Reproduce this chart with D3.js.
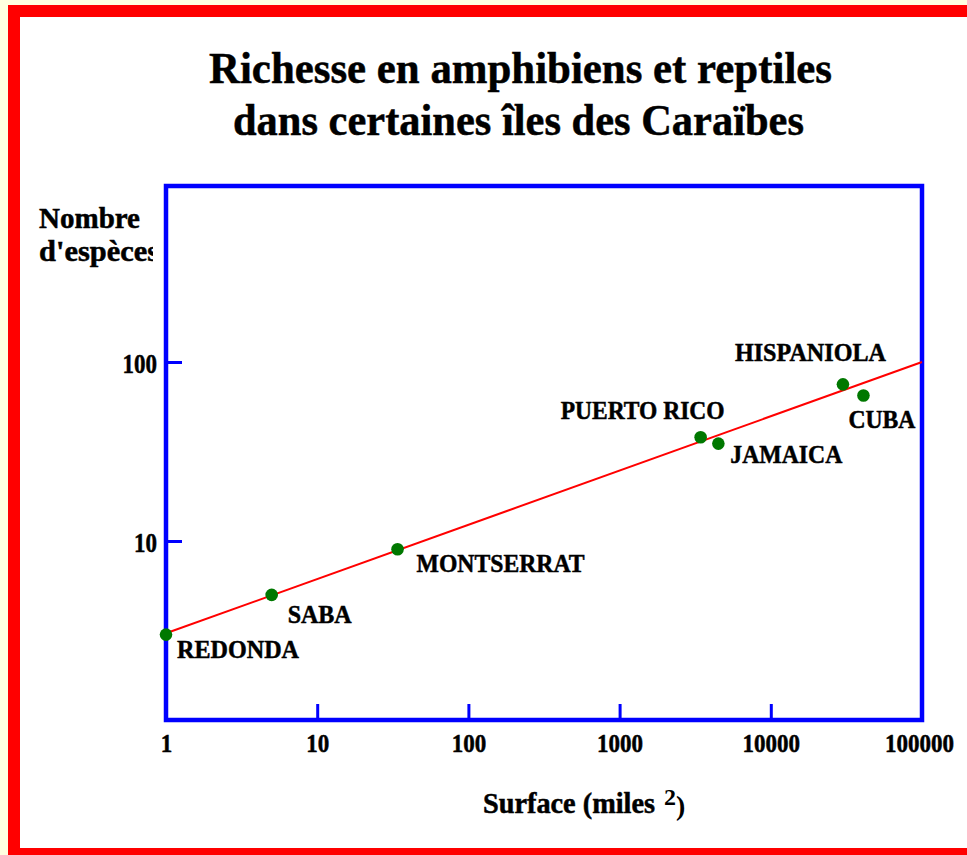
<!DOCTYPE html>
<html>
<head>
<meta charset="utf-8">
<script src="https://cdn.jsdelivr.net/npm/d3@7/dist/d3.min.js"></script>
<style>
  html, body { margin: 0; padding: 0; background: #ffffe0; }
  svg { display: block; }
  text { font-family: "Liberation Serif", "DejaVu Serif", serif; font-weight: bold; fill: #000; }
  .heavy { stroke: #000; stroke-width: 0.5px; }
</style>
</head>
<body>
<svg id="chart" width="967" height="855"></svg>
<script>
// ---- data ----
const islands   = ["REDONDA", "SABA", "MONTSERRAT", "PUERTO RICO", "JAMAICA", "HISPANIOLA", "CUBA"];
const areas     = [1, 5, 34, 3435, 4500, 30000, 41000];   // miles²
const species   = [3, 5, 9, 38, 35, 75, 65];               // nombre d'espèces
const fitArea   = [1, 100000];
const fitSpecies= [3.05, 100];
const xTicks    = [1, 10, 100, 1000, 10000, 100000];
const yTicks    = [10, 100];
const titleLines = ["Richesse en amphibiens et reptiles", "dans certaines îles des Caraïbes"];
const yLabelLines = ["Nombre", "d'espèces"];

// ---- layout (presentation only) ----
const labelDx = [11, 16, 19, -140, 12, -108, -15];
const labelDy = [23, 28, 23, -18, 19, -23, 33];
const labelW  = [122, 64, 168, 164, 112, 151, 67];

const svg = d3.select("#chart");

// red frame (right side runs off the picture)
svg.append("rect").attr("x", 8).attr("y", 5).attr("width", 959).attr("height", 850).attr("fill", "#ff0000");
svg.append("rect").attr("x", 20).attr("y", 17).attr("width", 947).attr("height", 831).attr("fill", "#ffffff");

// title
const titleY = [83, 135], titleW = [623, 571], titleCx = [520.5, 518.5];
titleLines.forEach((t, i) => {
  svg.append("text").attr("class", "heavy").attr("x", titleCx[i]).attr("y", titleY[i])
    .attr("text-anchor", "middle").attr("font-size", 45)
    .attr("textLength", titleW[i]).attr("lengthAdjust", "spacingAndGlyphs")
    .text(t);
});

// scales
const x = d3.scaleLog().domain([1, 100000]).range([166, 922]);
const y = d3.scaleLog().domain([1, 1000]).range([720, 183]);

const blue = "#0000ff";

// axes (ticks inward)
const xAxis = svg.append("g").attr("transform", "translate(0,720)")
  .call(d3.axisBottom(x).tickValues(xTicks).tickSize(-16).tickPadding(14).tickFormat(d3.format("d")));
xAxis.select(".domain").remove();
xAxis.selectAll(".tick line").attr("stroke", blue).attr("stroke-width", 3);
xAxis.selectAll(".tick text")
  .attr("class", "heavy")
  .attr("font-family", "Liberation Serif").attr("font-weight", "bold")
  .attr("font-size", 25).attr("fill", "#000")
  .attr("dx", (d, i) => i === xTicks.length - 1 ? -3 : 0)
  .attr("textLength", d => 11.5 * String(d).length).attr("lengthAdjust", "spacingAndGlyphs");

const yAxis = svg.append("g").attr("transform", "translate(166,0)")
  .call(d3.axisLeft(y).tickValues(yTicks).tickSize(-16).tickPadding(9).tickFormat(d3.format("d")));
yAxis.select(".domain").remove();
yAxis.selectAll(".tick line").attr("stroke", blue).attr("stroke-width", 3);
yAxis.selectAll(".tick text")
  .attr("class", "heavy")
  .attr("font-family", "Liberation Serif").attr("font-weight", "bold")
  .attr("font-size", 27).attr("fill", "#000").attr("dy", "0.38em")
  .attr("textLength", d => 11.5 * String(d).length).attr("lengthAdjust", "spacingAndGlyphs");

// plot frame
svg.append("rect")
  .attr("x", x(1)).attr("y", 186)
  .attr("width", x(100000) - x(1)).attr("height", 720 - 186)
  .attr("fill", "none").attr("stroke", blue).attr("stroke-width", 4.5);

// regression line
const fit = fitArea.map((a, i) => [a, fitSpecies[i]]);
svg.append("path").datum(fit)
  .attr("d", d3.line().x(d => x(d[0])).y(d => y(d[1])))
  .attr("stroke", "#ff0000").attr("stroke-width", 2).attr("fill", "none");

// points
const pts = islands.map((n, i) => ({ name: n, area: areas[i], sp: species[i], dx: labelDx[i], dy: labelDy[i], w: labelW[i] }));
svg.append("g").selectAll("circle").data(pts).join("circle")
  .attr("cx", d => x(d.area)).attr("cy", d => y(d.sp)).attr("r", 6.3)
  .attr("fill", "#007800");

svg.append("g").selectAll("text").data(pts).join("text")
  .attr("class", "heavy")
  .attr("x", d => x(d.area) + d.dx).attr("y", d => y(d.sp) + d.dy)
  .attr("font-size", 26)
  .attr("textLength", d => d.w).attr("lengthAdjust", "spacingAndGlyphs")
  .text(d => d.name);

// y label
const clip = svg.append("defs").append("clipPath").attr("id", "ylabclip");
clip.append("rect").attr("x", 20).attr("y", 190).attr("width", 133).attr("height", 90);
const yl = svg.append("g").attr("clip-path", "url(#ylabclip)");
yl.append("text").attr("class", "heavy").attr("x", 39).attr("y", 228).attr("font-size", 29)
  .attr("textLength", 101).attr("lengthAdjust", "spacingAndGlyphs").text(yLabelLines[0]);
yl.append("text").attr("class", "heavy").attr("x", 39).attr("y", 261).attr("font-size", 29)
  .attr("textLength", 120).attr("lengthAdjust", "spacingAndGlyphs").text(yLabelLines[1]);

// x label
svg.append("text").attr("class", "heavy").attr("x", 483).attr("y", 813).attr("font-size", 29)
  .attr("textLength", 172).attr("lengthAdjust", "spacingAndGlyphs").text("Surface (miles");
svg.append("text").attr("x", 664).attr("y", 805).attr("font-size", 24).attr("font-weight", "normal").text("2");
svg.append("text").attr("x", 676).attr("y", 815).attr("font-size", 28).attr("font-weight", "normal").text(")");
</script>
</body>
</html>
